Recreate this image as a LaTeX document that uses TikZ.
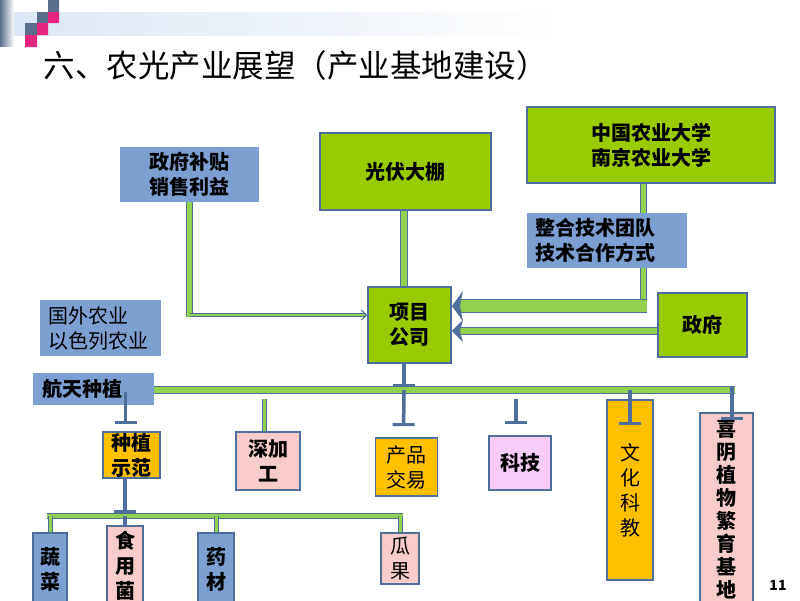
\documentclass[tikz,border=0pt]{standalone}
\usepackage{fontspec}
\setmainfont{Noto Sans CJK SC}
\usetikzlibrary{arrows.meta}
\definecolor{kastenblau}{HTML}{7E9FD1}
\definecolor{kastengruen}{HTML}{99CC00}
\definecolor{rahmen}{HTML}{4F6E9C}
\definecolor{rohrgruen}{HTML}{92D050}
\definecolor{orangegelb}{HTML}{FFC000}
\definecolor{rosa}{HTML}{F9CCCC}
\definecolor{lila}{HTML}{F7CCF7}
\definecolor{kopfgrau}{HTML}{5A6E8C}
\definecolor{kopfrot}{HTML}{E6267E}
\definecolor{kopfblau}{HTML}{DCE7F5}
\begin{document}
\begin{tikzpicture}[x=1pt,y=-1pt,
        kasten/.style={draw=rahmen, line width=1.8pt, inner sep=0pt, align=center,
            font=\bfseries\fontsize{20}{25}\selectfont},
        blaukasten/.style={fill=kastenblau, inner sep=0pt, align=center,
            font=\bfseries\fontsize{20}{25}\selectfont},
        duenn/.style={font=\fontsize{20}{25}\selectfont},
        rohr/.style={draw=rahmen, line width=1pt, double=rohrgruen, double distance=#1},
        rohr/.default=5pt,
        spitze/.style={-{Stealth[length=11pt,width=#1,inset=3pt]}},
        stiel/.style={draw=rahmen, line width=3.5pt},
        tee/.style={-{Bar[width=22pt,line width=3pt]}},
    ]
        \useasboundingbox (0,0) rectangle (800,600);
        \fill[white] (0,0) rectangle (800,600);
        % Kopfleiste
        \shade[left color=kopfgrau, right color=white] (0,0) rectangle (14,46);
        \shade[left color=kopfblau, right color=white] (14,12) rectangle (560,35);
        \fill[kopfgrau]
        (48,0) rectangle (59,12)
        (37,12) rectangle (48,23)
        (25,23) rectangle (37,35)
        ;
        \fill[kopfrot]
        (48,12) rectangle (59,23)
        (37,23) rectangle (48,35)
        (25,35) rectangle (37,47)
        ;
        % Titel
        \node[anchor=west, font=\fontsize{31.5}{36}\selectfont] (T) at (40,66) {六、农光产业展望（产业基地建设）};
        % Kästen oben
        \node[blaukasten, minimum width=139pt, minimum height=55pt] (ZB) at (189.5,174.5) {政府补贴\\销售利益};
        \node[kasten, fill=kastengruen, minimum width=171pt, minimum height=77pt] (GF) at (405.5,171.5) {光伏大棚};
        \node[kasten, fill=kastengruen, minimum width=248pt, minimum height=76pt] (UNI) at (651,145) {中国农业大学\\南京农业大学};
        \node[blaukasten, duenn, align=left, text width=105pt, inner xsep=8pt, minimum height=56pt] (GW) at (100.5,328) {国外农业\\以色列农业};
        \node[kasten, fill=kastengruen, minimum width=83pt, minimum height=76pt] (PG) at (409.5,325) {项目\\公司};
        \node[kasten, fill=kastengruen, minimum width=89pt, minimum height=64pt] (ZF) at (702.5,325) {政府};
        \node[blaukasten, align=left, text width=103pt, inner xsep=9pt, minimum height=32pt] (HT) at (93.5,389) {航天种植};
        % Kästen unten
        \node[kasten, fill=orangegelb, minimum width=57pt, minimum height=46pt] (ZS) at (131.5,455) {种植\\示范};
        \node[kasten, fill=rosa, minimum width=64pt, minimum height=58pt] (SJ) at (268,461) {深加\\工};
        \node[kasten, duenn, fill=orangegelb, minimum width=62pt, minimum height=58pt] (CP) at (406.5,467) {产品\\交易};
        \node[kasten, fill=lila, minimum width=62pt, minimum height=54pt] (KJ) at (520,463) {科技};
        \node[kasten, duenn, fill=orangegelb, minimum width=46pt, minimum height=180pt] (WH) at (630,490) {文\\化\\科\\教};
        \node[kasten, fill=rosa, minimum width=53pt, minimum height=193pt,
            font=\bfseries\fontsize{20}{23}\selectfont] (XY) at (726.5,509.5) {喜\\阴\\植\\物\\繁\\育\\基\\地};
        \node[kasten, fill=kastenblau, minimum width=34pt, minimum height=72pt] (SC) at (50,569) {蔬\\菜};
        \node[kasten, fill=rosa, minimum width=36pt, minimum height=79pt] (SY) at (125,565.5) {食\\用\\菌};
        \node[kasten, fill=kastenblau, minimum width=36pt, minimum height=72pt] (YC) at (216,569) {药\\材};
        \node[kasten, duenn, fill=rosa, minimum width=38pt, minimum height=51pt] (GG) at (400,558.5) {瓜\\果};
        % Seitenzahl
        \node[font=\bfseries\fontsize{14}{16}\selectfont] (S) at (778,585) {11};
        % Hilfspunkte
        \coordinate (bar) at (0,390);
        \coordinate (sub) at (0,516);
        \coordinate (k1) at (190,315);
        \coordinate (k2) at (643,306);
        \coordinate (k3) at (0,331);
        \coordinate (be) at (732,390);
        % Rohre zum Projekt
        \draw[rohr=5pt, shorten >=-2pt] (ZB.south) -- (ZB.south |- k1);
        \draw[rohr=2.5pt, -{Straight Barb[length=5pt,width=10pt]}] (ZB.south |- k1) -- (PG.west |- k1);
        \draw[rohr=6pt] ([xshift=-1.5pt]GF.south) -- ([xshift=-1.5pt]GF.south |- PG.north);
        \draw[rohr=5pt] (UNI.south -| k2) -- ([yshift=-7pt]k2);
        \draw[rohr=12pt, spitze=30pt] ([xshift=4pt]k2) -- (PG.east |- k2);
        \draw[rohr=6pt, spitze=22pt] (ZF.west |- k3) -- (PG.east |- k3);
        \node[blaukasten, align=left, text width=144pt, inner xsep=8pt, minimum height=55pt] (TT) at (607,240.5) {整合技术团队\\技术合作方式};
        % Hauptleiste
        \draw[rohr=6pt] (HT.east |- bar) -- ([xshift=3pt]be);
        \draw[stiel, tee, shorten >=3pt] ([xshift=-5.5pt]PG.south) -- ([xshift=-5.5pt]PG.south |- bar);
        \draw[stiel, tee, shorten >=11pt] ([xshift=-5.5pt]PG.south |- bar) -- ([xshift=-3pt]CP.north);
        \draw[stiel, tee] ([xshift=-6pt]ZS.north) ++(0,-39) -- ++(0,32);
        \draw[rohr=3pt] ([xshift=-4pt]SJ.north) -- ++(0,-32);
        \draw[stiel, tee] ([xshift=-4pt]KJ.north) ++(0,-36) -- ++(0,25);
        \draw[stiel, tee] (WH.north |- bar) -- ++(0,35);
        \draw[stiel, tee] ([yshift=3pt]be) -- ++(0,33);
        % Leiste unten
        \draw[rohr=4pt] ([xshift=-3pt]SC.north |- sub) -- ([xshift=3pt]GG.north |- sub);
        \draw[stiel, tee, shorten >=3pt] (SY.north |- ZS.south) -- (SY.north |- sub);
        \draw[stiel] (SY.north |- sub) -- (SY.north);
        \draw[rohr=3pt] (SC.north |- sub) -- (SC.north);
        \draw[rohr=3pt] (YC.north |- sub) -- (YC.north);
        \draw[rohr=3pt] (GG.north |- sub) -- (GG.north);
    \end{tikzpicture}
\end{document}
